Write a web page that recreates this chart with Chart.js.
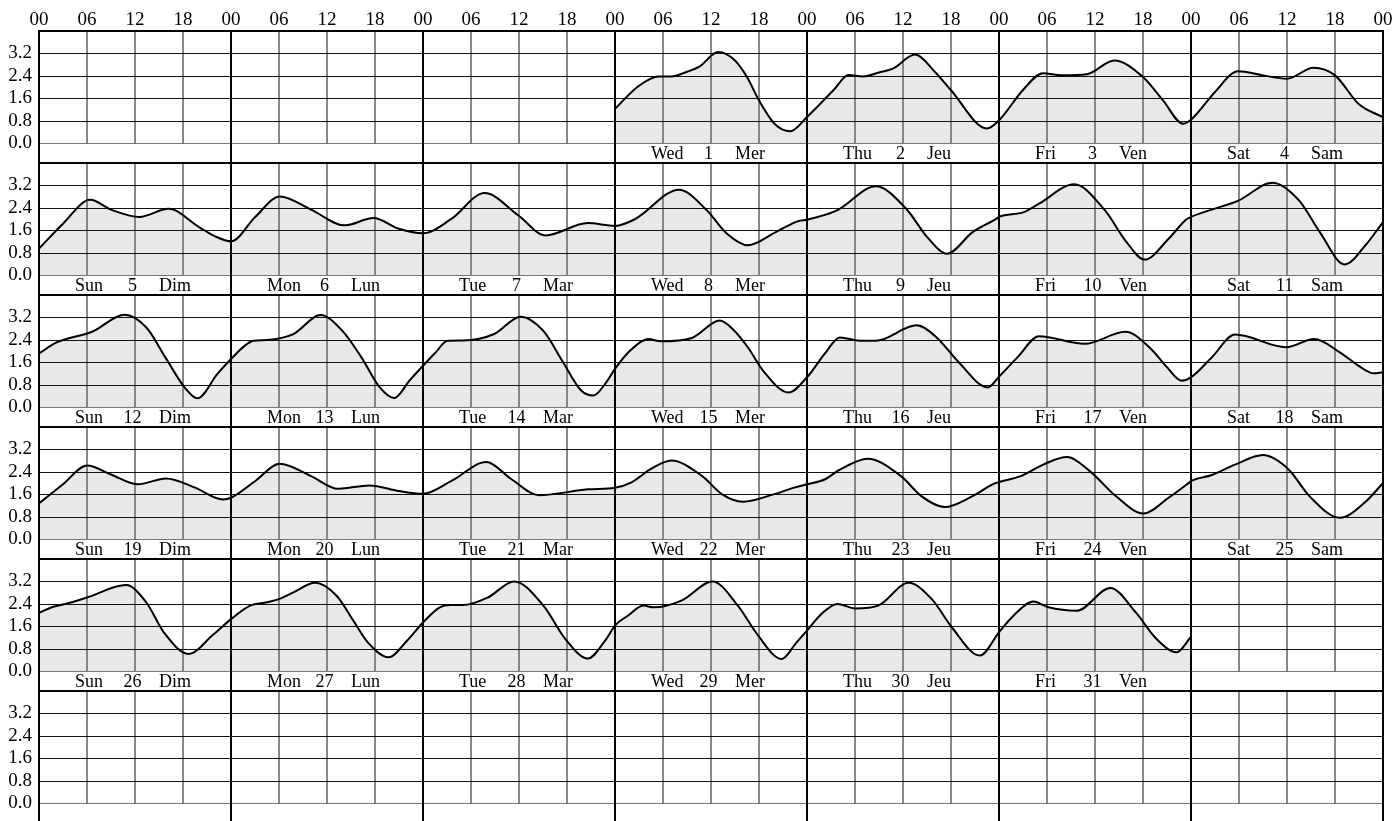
<!DOCTYPE html>
<html><head><meta charset="utf-8">
<script src="https://cdn.jsdelivr.net/npm/chart.js@4/dist/chart.umd.min.js"></script>
<style>html,body{margin:0;padding:0;background:#fff;overflow:hidden}canvas{display:block}</style>
</head><body>
<canvas id="c" width="1398" height="824"></canvas>
<script>
// ---- data ----
const hourTicks = ['00', '06', '12', '18'];
const levelTicks = ['0.0', '0.8', '1.6', '2.4', '3.2'];
const levelTickValues = [0, 0.8, 1.6, 2.4, 3.2];
const weekdaysEn = ['Sun', 'Mon', 'Tue', 'Wed', 'Thu', 'Fri', 'Sat'];
const weekdaysFr = ['Dim', 'Lun', 'Mar', 'Mer', 'Jeu', 'Ven', 'Sam'];
const firstWeekday = 3;
const daysInMonth = 31;
const weekCount = 6;

// hours counted from Sunday 00:00 of each week row, tide level in metres
const week1Hours = [72,75,77.5,79,81,82.5,84.9,87,88.5,90,92,93.9, 96,99.3,101.2,103,105,106.8,109.5,112,114,118.5, 120,123,125.5,127.8,131,134.4,138,140.5,143, 144,147,149.9,153,156,159.3,162,165,168];
const week1Levels = [1.23,2.05,2.38,2.38,2.55,2.72,3.25,2.95,2.36,1.53,0.68,0.43, 0.94,1.89,2.43,2.38,2.52,2.67,3.16,2.54,1.89,0.53, 0.82,1.9,2.5,2.42,2.46,2.95,2.36,1.53,0.70, 0.84,1.83,2.57,2.42,2.3,2.69,2.42,1.39,0.93];

const week2Hours = [0,3,6.4,9,12.55,16.2,20,22, 24,27,30.1,34,38.2,41.8,45, 48,51.5,55.7,59.9,63.3,68.6, 72,74.5,80,83.5,86,88.6,92.1,94.9, 96,99.75,104.6,108.4,111,113.5,116.7,119.7, 120,123.1,125,129.4,133.25,135.8,138.2,141.2,143.4, 144,146.6,149.85,154.2,157.5,160.1,163.2,165.8,168];
const week2Levels = [0.95,1.84,2.69,2.34,2.08,2.37,1.72,1.39, 1.21,2.07,2.81,2.34,1.78,2.04,1.66, 1.5,2.0,2.93,2.14,1.42,1.86, 1.76,2.0,3.05,2.31,1.48,1.07,1.54,1.93, 1.98,2.31,3.17,2.37,1.37,0.77,1.54,2.02, 2.08,2.25,2.55,3.24,2.31,1.24,0.56,1.30,1.99, 2.08,2.34,2.65,3.30,2.67,1.54,0.39,1.07,1.90];

const week3Hours = [0,2.2,6.7,10.7,13.4,15.8,18.2,19.8,22.3, 24,25.7,26.8,28.5,31.8,35.2,37.9,40.3,42.6,44.4,46.3, 48,49.6,51.05,53,56.9,60.2,63.05,65.4,67.8,69.3,70.9, 72,73.9,76.2,77.7,81.6,85.1,86.7,88.6,90.5,93.7, 96,98.2,100.1,102.6,104.6,109.7,112.2,114.8,118.6, 120,122.3,125,130.7,135.8,139,141,142.8, 144,146.6,149.5,155.9,159.4,162.6,165.2,166.8,168];
const week3Levels = [1.92,2.31,2.70,3.30,2.85,1.78,0.71,0.32,1.19, 1.72,2.19,2.37,2.40,2.61,3.29,2.73,1.78,0.71,0.33,0.95, 1.48,1.96,2.37,2.38,2.61,3.23,2.72,1.66,0.59,0.42,0.89, 1.37,2.02,2.43,2.35,2.47,3.09,2.79,2.14,1.31,0.53, 1.07,1.90,2.49,2.37,2.37,2.92,2.49,1.66,0.71, 1.09,1.78,2.53,2.26,2.69,2.08,1.43,0.95, 1.07,1.78,2.59,2.14,2.43,1.96,1.43,1.21,1.25];

const week4Hours = [0,3,6,9,12.3,15.9,19.5,23, 24,27,30.1,34,37.4,41.3,45, 48,51.5,55.9,59.1,62.5,68.6, 72,74,76.5,79.05,82.9,85.4,88,91.8,94.4, 96,98.2,100.1,103.6,107.75,110.3,113.2,116.7,119.2, 120,122.7,125.6,128.5,131.35,134.6,138.05,141.2,143.5, 144,146.6,149.5,153,156.2,158.8,162.6,165.9,168];
const week4Levels = [1.28,1.96,2.63,2.31,1.96,2.17,1.84,1.42, 1.48,2.07,2.69,2.25,1.80,1.92,1.72, 1.62,2.07,2.75,2.13,1.57,1.78, 1.84,2.02,2.51,2.81,2.25,1.6,1.34,1.6,1.84, 1.96,2.13,2.48,2.87,2.25,1.54,1.15,1.54,1.96, 2.04,2.25,2.67,2.93,2.43,1.54,0.92,1.48,1.96, 2.07,2.29,2.66,3.0,2.49,1.54,0.77,1.36,2.01];

const week5Hours = [0,1.6,3.3,6,10.9,13.4,15.6,18.7,21.75, 24,26.4,28.5,30.1,31.8,34.5,37.2,39.3,41.1,43.7,46, 48,50.1,51.4,53,56.1,59.4,63.05,65.8,68.6,70.9, 72,73.6,75.55,76.8,80.3,84.2,87.35,89.9,92.8,94.7, 96,97.8,99.8,102,104.9,108.7,111.6,114.1,117.6, 120,121.8,124.3,126.2,129.75,133.9,137.1,139.7,142.2,144];
const week5Levels = [2.08,2.28,2.40,2.63,3.07,2.46,1.39,0.62,1.30, 1.86,2.34,2.46,2.58,2.81,3.15,2.69,1.80,1.03,0.50,1.09, 1.74,2.28,2.36,2.36,2.63,3.20,2.34,1.15,0.46,1.15, 1.63,1.98,2.34,2.28,2.52,3.20,2.34,1.27,0.44,1.03, 1.45,2.04,2.40,2.24,2.34,3.15,2.57,1.57,0.56, 1.39,1.98,2.49,2.28,2.16,2.97,2.10,1.15,0.68,1.23];

const weekHours = [week1Hours, week2Hours, week3Hours, week4Hours, week5Hours];
const weekLevels = [week1Levels, week2Levels, week3Levels, week4Levels, week5Levels];

// ---- layout of the stacked week rows on one value axis ----
const ROW_SPAN = 4.7, ROW_TOP = 4.0, ROW_BOTTOM = -0.7;
function rowBase(r) { return (weekCount - 1 - r) * ROW_SPAN; }

const SERIF = '"Liberation Serif", "Times New Roman", serif';

const datasets = weekHours.map((hours, r) => ({
  data: hours.map((h, i) => ({ x: h, y: weekLevels[r][i] + rowBase(r) })),
  borderColor: '#000',
  borderWidth: 2,
  backgroundColor: '#e8e8e8',
  fill: { value: rowBase(r) },
  pointRadius: 0,
  pointHoverRadius: 0,
  cubicInterpolationMode: 'monotone'
}));

function line(ctx, x1, y1, x2, y2) {
  ctx.beginPath(); ctx.moveTo(x1, y1); ctx.lineTo(x2, y2); ctx.stroke();
}

const gridPlugin = {
  id: 'tideGrid',
  beforeDatasetsDraw(chart) {
    const { ctx, chartArea: a, scales: { x, y } } = chart;
    ctx.save();
    for (let r = 0; r < weekCount; r++) {
      const b = rowBase(r);
      const top = y.getPixelForValue(b + ROW_TOP);
      const zero = y.getPixelForValue(b);
      ctx.strokeStyle = '#888'; ctx.lineWidth = 2;
      for (let d = 0; d < 7; d++) {
        for (const h of [6, 12, 18]) {
          const px = Math.round(x.getPixelForValue(d * 24 + h));
          line(ctx, px, top, px, zero);
        }
      }
      ctx.lineWidth = 1;
      levelTickValues.forEach(v => {
        ctx.strokeStyle = v === 0 ? '#777' : '#111';
        const py = Math.round(y.getPixelForValue(b + v)) + 0.5;
        line(ctx, a.left, py, a.right, py);
      });
      ctx.strokeStyle = '#000'; ctx.lineWidth = 2;
      const ty = Math.round(top);
      line(ctx, a.left - 1, ty, a.right + 1, ty);
    }
    ctx.strokeStyle = '#000'; ctx.lineWidth = 2;
    for (let d = 0; d <= 7; d++) {
      const px = Math.round(x.getPixelForValue(d * 24));
      line(ctx, px, a.top - 1, px, a.bottom);
    }
    ctx.restore();
  },
  afterDatasetsDraw(chart) {
    const { ctx, scales: { x, y } } = chart;
    ctx.save();
    ctx.font = '18px ' + SERIF;
    ctx.fillStyle = '#000';
    ctx.textBaseline = 'alphabetic';
    for (let day = 1; day <= daysInMonth; day++) {
      const idx = firstWeekday + day - 1;
      const r = Math.floor(idx / 7), c = idx % 7;
      const ty = y.getPixelForValue(rowBase(r) + ROW_BOTTOM / 2) + 6;
      ctx.textAlign = 'left';
      ctx.fillText(weekdaysEn[c], x.getPixelForValue(c * 24 + 4.5), ty);
      ctx.textAlign = 'center';
      ctx.fillText(String(day), x.getPixelForValue(c * 24 + 11.7), ty);
      ctx.textAlign = 'left';
      ctx.fillText(weekdaysFr[c], x.getPixelForValue(c * 24 + 15), ty);
    }
    ctx.restore();
  }
};

new Chart(document.getElementById('c'), {
  type: 'line',
  data: { datasets },
  options: {
    responsive: false,
    animation: false,
    events: [],
    layout: { padding: { top: 0, left: 0, right: 15, bottom: 1 } },
    plugins: {
      legend: { display: false },
      tooltip: { enabled: false },
      filler: { drawTime: 'beforeDatasetsDraw' }
    },
    scales: {
      x: {
        type: 'linear', position: 'top', min: 0, max: 168,
        grid: { display: false, drawTicks: false }, border: { display: false },
        ticks: {
          stepSize: 6, autoSkip: false, maxRotation: 0, padding: 0, color: '#000',
          font: { family: SERIF, size: 19 },
          callback: v => hourTicks[Math.round((v % 24) / 6)]
        },
        afterFit: s => { s.height = 31; s.paddingLeft = 0; s.paddingRight = 0; }
      },
      y: {
        type: 'linear', min: ROW_BOTTOM, max: rowBase(0) + ROW_TOP,
        grid: { display: false, drawTicks: false }, border: { display: false },
        afterBuildTicks: s => {
          const t = [];
          for (let r = weekCount - 1; r >= 0; r--) {
            levelTickValues.forEach(v => t.push({ value: rowBase(r) + v }));
          }
          s.ticks = t;
        },
        ticks: {
          autoSkip: false, padding: 7, color: '#000',
          font: { family: SERIF, size: 19 },
          callback: (v, i) => levelTicks[i % 5]
        },
        afterFit: s => { s.width = 39; s.paddingTop = 0; s.paddingBottom = 0; }
      }
    }
  },
  plugins: [gridPlugin]
});
</script>
</body></html>
